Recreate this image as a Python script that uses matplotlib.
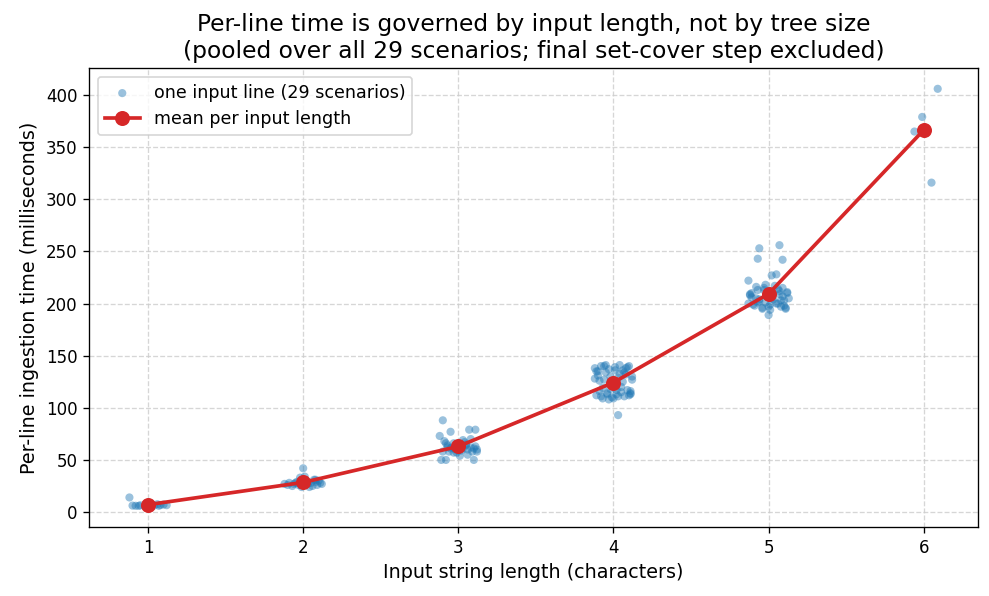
import numpy as np
import matplotlib
matplotlib.use("Agg")
import matplotlib.pyplot as plt

# input length (characters) -> jitter offsets and per-line times (ms)
lengths = [1, 2, 3, 4, 5, 6]

off1 = [-0.12, -0.10, -0.08, -0.05, -0.02, 0.02, 0.04, 0.06, 0.08, 0.10, 0.12, -0.06, 0.07]
ms1 = [14.0, 6.2, 6.0, 6.5, 5.8, 7.0, 6.4, 7.5, 6.8, 7.2, 6.6, 5.9, 6.0]

off2 = [-0.12, -0.10, -0.09, -0.07, -0.06, -0.04, -0.03, -0.01, 0.0, 0.01, 0.02, 0.03, 0.05,
        0.06, 0.07, 0.08, 0.09, 0.10, 0.11, 0.12, -0.02, 0.04, 0.0, -0.05, 0.08]
ms2 = [27, 26, 28, 25, 27, 29, 26, 24, 42, 34, 30, 27, 28,
       25, 31, 29, 26, 30, 28, 27, 33, 24, 26, 28, 31]

off3 = [-0.10, -0.12, -0.11, -0.09, -0.08, -0.07, -0.06, -0.05, -0.04, -0.03,
        -0.02, -0.01, 0.0, 0.01, 0.02, 0.03, 0.04, 0.05, 0.06, 0.07,
        0.08, 0.09, 0.10, 0.11, 0.12, -0.10, -0.08, -0.05, 0.0, 0.05,
        0.08, 0.11, -0.03, 0.03, 0.10, -0.07, 0.06, 0.12]
ms3 = [88, 73, 50, 68, 50, 64, 58, 77, 62, 66,
       60, 57, 63, 54, 59, 61, 67, 65, 60, 79,
       62, 58, 50, 79, 60, 58, 66, 61, 59, 64,
       70, 63, 57, 69, 61, 62, 55, 58]

off4 = [-0.12, -0.11, -0.10, -0.09, -0.08, -0.07, -0.06, -0.05, -0.04, -0.03,
        -0.02, -0.01, 0.03, 0.01, 0.02, 0.03, 0.04, 0.05, 0.06, 0.07,
        0.08, 0.09, 0.10, 0.11, 0.12, -0.12, -0.10, -0.08, -0.06, -0.04,
        -0.02, 0.00, 0.02, 0.04, 0.06, 0.08, 0.10, 0.12, -0.11, -0.07,
        -0.03, 0.01, 0.05, 0.09, 0.11, -0.09, -0.05, 0.03, 0.07, 0.11]
ms4 = [138, 112, 131, 116, 140, 109, 127, 134, 114, 137,
       118, 110, 93, 139, 113, 129, 141, 115, 136, 111,
       132, 117, 140, 114, 127, 128, 135, 111, 140, 113,
       130, 109, 117, 133, 125, 138, 112, 130, 135, 119,
       108, 136, 120, 139, 116, 126, 141, 111, 134, 113]

off5 = [-0.12, -0.11, -0.13, -0.09, -0.08, -0.07, -0.06, -0.07, -0.04, -0.03,
        -0.02, -0.01, 0.00, 0.01, 0.02, 0.03, 0.04, 0.05, 0.06, 0.07,
        0.08, 0.09, 0.10, 0.11, 0.12, -0.12, -0.10, -0.08, -0.06, -0.04,
        -0.02, 0.00, 0.02, 0.07, 0.06, 0.08, 0.10, 0.12, -0.11, -0.07,
        -0.03, 0.01, 0.05, 0.09, 0.11, -0.06, 0.07, -0.13, 0.09, 0.13]
ms5 = [209, 210, 222, 198, 205, 213, 253, 243, 196, 215,
       201, 207, 189, 199, 227, 204, 217, 228, 200, 212,
       197, 242, 203, 196, 211, 208, 199, 216, 202, 195,
       218, 197, 205, 256, 214, 203, 198, 210, 206, 201,
       213, 194, 200, 207, 195, 204, 209, 200, 215, 205]

off6 = [0.09, -0.01, -0.06, 0.05]
ms6 = [406, 379, 365, 316]

offsets = [off1, off2, off3, off4, off5, off6]
times = [ms1, ms2, ms3, ms4, ms5, ms6]

fig, ax = plt.subplots(figsize=(989 / 120, 596 / 120), dpi=120)
fig.subplots_adjust(left=0.09, right=0.989, bottom=0.116, top=0.886)

xs = np.concatenate([np.array(o) + L for L, o in zip(lengths, offsets)])
ys = np.concatenate([np.array(t, dtype=float) for t in times])
ax.scatter(xs, ys, s=24, color="tab:blue", alpha=0.45, edgecolors="none",
           label="one input line (29 scenarios)", zorder=2)

means = [np.mean(t) for t in times]
ax.plot(lengths, means, color="#d62728", linewidth=2.2, marker="o", markersize=8,
        label="mean per input length", zorder=3)

ax.set_xticks(lengths)
ax.tick_params(labelsize=10)
ax.set_xlabel("Input string length (characters)", fontsize=11.5)
ax.set_ylabel("Per-line ingestion time (milliseconds)", fontsize=11.5)
ax.set_title("Per-line time is governed by input length, not by tree size\n"
             "(pooled over all 29 scenarios; final set-cover step excluded)", fontsize=14)
ax.grid(True, linestyle="--", color="#cccccc", alpha=0.8, zorder=0)
ax.set_axisbelow(True)
ax.legend(loc="upper left", fontsize=10.5)

fig.savefig("out.png", dpi=120)
